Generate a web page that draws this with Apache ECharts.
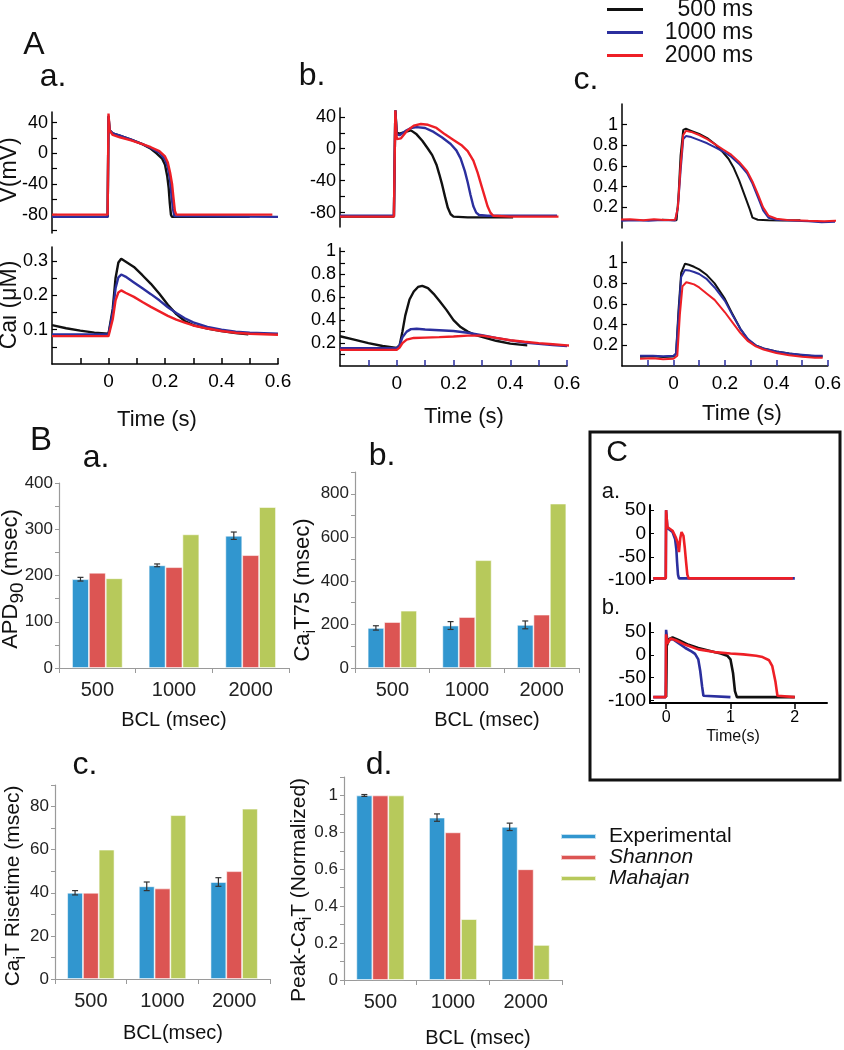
<!DOCTYPE html>
<html><head><meta charset="utf-8">
<script src="https://cdn.jsdelivr.net/npm/echarts@6/dist/echarts.min.js"></script>
<style>html,body{margin:0;padding:0;background:#fff}#c{width:844px;height:1050px}</style>
</head><body><div id="c"></div>
<script>
const NAR = "'Liberation Sans Narrow','Arial Narrow','Liberation Sans',Arial,sans-serif";
const REG = "'Liberation Sans',Arial,sans-serif";
const BLACK = '#111111', BLUE = '#2b2f9e', RED = '#ee1f26';
const C_EXP = '#3196cf', C_SHA = '#dc5553', C_MAH = '#b7c95b';

// ---------- Panel A.a : V (mV) ----------
const aV500 = [[-0.2,-83],[-0.003,-83],[0,48],[0.004,30],[0.015,26],[0.04,23],[0.08,18],[0.12,12],[0.15,6],[0.17,0],[0.19,-7],[0.2,-15],[0.208,-30],[0.213,-45],[0.217,-65],[0.221,-80],[0.225,-83],[0.5,-83]];
const aV1000 = [[-0.2,-83],[-0.003,-83],[0,49],[0.004,30],[0.015,26],[0.04,23],[0.08,18],[0.12,12],[0.15,7],[0.18,1],[0.2,-8],[0.21,-18],[0.218,-35],[0.223,-55],[0.228,-72],[0.233,-82],[0.24,-83],[0.6,-83]];
const aV2000 = [[-0.2,-80],[-0.003,-80],[0,52],[0.004,30],[0.015,24],[0.04,21],[0.08,17],[0.12,12],[0.15,8],[0.18,3],[0.2,-4],[0.21,-12],[0.218,-25],[0.225,-40],[0.23,-58],[0.235,-75],[0.24,-80],[0.58,-80]];
// ---------- Panel A.a : Cai (uM) ----------
const aC500 = [[-0.2,0.113],[-0.15,0.104],[-0.1,0.097],[-0.05,0.091],[0,0.088],[0.005,0.09],[0.015,0.16],[0.025,0.25],[0.035,0.295],[0.045,0.306],[0.06,0.298],[0.09,0.282],[0.12,0.258],[0.15,0.233],[0.18,0.204],[0.21,0.172],[0.24,0.145],[0.27,0.125],[0.3,0.113],[0.35,0.103],[0.4,0.096],[0.45,0.09],[0.495,0.086]];
const aC1000 = [[-0.2,0.086],[0,0.086],[0.005,0.088],[0.015,0.15],[0.025,0.22],[0.035,0.252],[0.045,0.26],[0.06,0.254],[0.09,0.237],[0.12,0.22],[0.15,0.203],[0.18,0.185],[0.21,0.165],[0.24,0.148],[0.27,0.133],[0.3,0.121],[0.35,0.108],[0.4,0.1],[0.45,0.094],[0.5,0.091],[0.6,0.088]];
const aC2000 = [[-0.2,0.081],[0,0.081],[0.005,0.083],[0.015,0.13],[0.025,0.185],[0.035,0.208],[0.045,0.214],[0.06,0.207],[0.09,0.195],[0.12,0.18],[0.15,0.166],[0.18,0.153],[0.21,0.14],[0.24,0.129],[0.27,0.12],[0.3,0.112],[0.35,0.103],[0.4,0.096],[0.45,0.091],[0.5,0.088],[0.6,0.085]];
// ---------- Panel A.b : V (mV) ----------
const bV500 = [[-0.2,-85],[-0.01,-85],[-0.005,48],[0,20],[0.01,19],[0.03,21],[0.05,23],[0.07,18],[0.09,10],[0.11,0],[0.125,-8],[0.14,-20],[0.15,-32],[0.16,-45],[0.17,-60],[0.18,-74],[0.19,-82],[0.2,-85],[0.25,-86],[0.41,-86]];
const bV1000 = [[-0.2,-84],[-0.01,-84],[-0.005,48],[0,18],[0.01,17],[0.03,22],[0.05,26],[0.07,27],[0.1,26],[0.13,21],[0.16,14],[0.19,6],[0.21,-2],[0.225,-12],[0.24,-28],[0.25,-42],[0.26,-58],[0.27,-72],[0.28,-80],[0.29,-83],[0.32,-84],[0.565,-84]];
const bV2000 = [[-0.2,-85],[-0.01,-85],[-0.005,48],[0,12],[0.015,13],[0.035,22],[0.06,29],[0.085,31],[0.11,30],[0.14,26],[0.17,18],[0.2,11],[0.23,4],[0.25,-3],[0.27,-15],[0.285,-30],[0.3,-48],[0.31,-60],[0.32,-72],[0.33,-80],[0.34,-84],[0.4,-85],[0.57,-85]];
// ---------- Panel A.b : Cai ----------
const bC500 = [[-0.2,0.26],[-0.15,0.23],[-0.1,0.2],[-0.05,0.175],[0,0.158],[0.01,0.18],[0.02,0.3],[0.03,0.44],[0.045,0.58],[0.06,0.65],[0.075,0.69],[0.09,0.7],[0.11,0.68],[0.13,0.63],[0.15,0.57],[0.175,0.49],[0.2,0.4],[0.225,0.34],[0.25,0.3],[0.275,0.272],[0.3,0.255],[0.35,0.22],[0.4,0.195],[0.46,0.18]];
const bC1000 = [[-0.2,0.156],[0,0.156],[0.01,0.18],[0.02,0.25],[0.035,0.3],[0.05,0.322],[0.07,0.325],[0.1,0.318],[0.15,0.312],[0.2,0.305],[0.25,0.29],[0.3,0.268],[0.35,0.245],[0.4,0.224],[0.45,0.205],[0.5,0.193],[0.55,0.182],[0.6,0.174]];
const bC2000 = [[-0.2,0.141],[0,0.141],[0.01,0.16],[0.02,0.2],[0.035,0.23],[0.06,0.245],[0.1,0.248],[0.15,0.252],[0.2,0.258],[0.25,0.265],[0.3,0.265],[0.35,0.245],[0.4,0.225],[0.45,0.212],[0.5,0.2],[0.55,0.19],[0.6,0.18],[0.62,0.177]];
// ---------- Panel A.c : experimental (normalized) ----------
const cV500 = [[-0.05,0.08],[-0.02,0.078],[0.005,0.075],[0.012,0.3],[0.02,0.7],[0.03,0.95],[0.04,0.96],[0.06,0.94],[0.09,0.91],[0.12,0.87],[0.15,0.81],[0.18,0.73],[0.2,0.67],[0.22,0.58],[0.24,0.46],[0.26,0.32],[0.28,0.18],[0.29,0.1],[0.31,0.08],[0.35,0.075],[0.4,0.072],[0.47,0.075]];
const cV1000 = [[-0.215,0.07],[-0.15,0.075],[-0.1,0.07],[-0.05,0.078],[0,0.072],[0.01,0.2],[0.02,0.55],[0.03,0.86],[0.04,0.89],[0.06,0.88],[0.09,0.85],[0.12,0.82],[0.15,0.78],[0.18,0.74],[0.21,0.69],[0.24,0.62],[0.27,0.53],[0.29,0.43],[0.31,0.3],[0.33,0.17],[0.35,0.1],[0.38,0.08],[0.45,0.07],[0.5,0.065],[0.55,0.055],[0.6,0.06]];
const cV2000 = [[-0.215,0.08],[-0.17,0.085],[-0.12,0.075],[-0.08,0.085],[-0.04,0.078],[0,0.08],[0.01,0.2],[0.02,0.6],[0.03,0.9],[0.04,0.94],[0.06,0.93],[0.09,0.9],[0.12,0.86],[0.15,0.81],[0.18,0.76],[0.21,0.71],[0.24,0.64],[0.27,0.55],[0.29,0.45],[0.31,0.33],[0.33,0.2],[0.35,0.12],[0.38,0.09],[0.42,0.078],[0.5,0.07],[0.56,0.065],[0.6,0.07],[0.635,0.068]];
const cC500 = [[-0.13,0.09],[-0.08,0.095],[-0.04,0.088],[0,0.092],[0.01,0.12],[0.02,0.55],[0.03,0.9],[0.045,0.99],[0.06,0.98],[0.08,0.96],[0.1,0.935],[0.13,0.88],[0.16,0.8],[0.2,0.65],[0.23,0.5],[0.26,0.36],[0.29,0.25],[0.32,0.2],[0.35,0.17],[0.4,0.14],[0.45,0.12],[0.5,0.105],[0.55,0.095],[0.58,0.092]];
const cC1000 = [[-0.13,0.1],[-0.08,0.1],[-0.04,0.095],[0,0.1],[0.01,0.12],[0.02,0.5],[0.03,0.86],[0.045,0.93],[0.06,0.925],[0.08,0.91],[0.1,0.89],[0.13,0.84],[0.16,0.76],[0.2,0.63],[0.23,0.49],[0.26,0.36],[0.29,0.26],[0.32,0.2],[0.35,0.17],[0.4,0.14],[0.45,0.12],[0.5,0.11],[0.55,0.1],[0.58,0.1]];
const cC2000 = [[-0.13,0.07],[-0.08,0.075],[-0.04,0.065],[0,0.07],[0.015,0.1],[0.025,0.5],[0.035,0.77],[0.05,0.81],[0.065,0.8],[0.08,0.79],[0.1,0.76],[0.13,0.7],[0.16,0.64],[0.2,0.52],[0.23,0.42],[0.26,0.32],[0.29,0.24],[0.32,0.19],[0.35,0.16],[0.4,0.125],[0.45,0.105],[0.5,0.09],[0.55,0.08],[0.58,0.08]];

// ---------- Panel B : bars ----------
const BCL = ['500','1000','2000'];
const apdExp = [192,222,286], apdExpErr = [4,3,8], apdSha = [206,218,244], apdMah = [194,289,348];
const caExp = [184,195,198], caExpErr = [10,18,18], caSha = [211,234,245], caMah = [263,495,755];
const riseExp = [40,43,45], riseExpErr = [1,2,2], riseSha = [40,42,50], riseMah = [60,76,79];
const peakExp = [1,0.88,0.83], peakExpErr = [0.005,0.02,0.02], peakSha = [1,0.8,0.6], peakMah = [1,0.33,0.19];

// ---------- Panel C ----------
const CaBlue = [[-0.2,-96],[-0.005,-96],[0,50],[0.02,12],[0.1,3],[0.14,-12],[0.16,-35],[0.17,-60],[0.185,-88],[0.2,-96],[2.0,-96]];
const CaRed = [[-0.2,-96],[-0.005,-96],[0,50],[0.02,14],[0.1,6],[0.15,-8],[0.18,-20],[0.2,-40],[0.22,-10],[0.24,3],[0.27,-5],[0.29,-30],[0.31,-60],[0.33,-88],[0.35,-96],[1.97,-96]];
const CbBlue = [[-0.2,-93],[-0.005,-93],[0,55],[0.02,30],[0.1,35],[0.2,25],[0.3,15],[0.4,7],[0.45,2],[0.5,-10],[0.53,-35],[0.56,-70],[0.58,-90],[0.6,-93],[1.0,-93]];
const CbBlack = [[0,-93],[0.01,20],[0.05,35],[0.1,38],[0.2,32],[0.35,22],[0.5,15],[0.7,8],[0.85,3],[0.95,-2],[1.0,-10],[1.04,-40],[1.07,-80],[1.1,-93],[2.0,-93]];
const CbRed = [[-0.2,-93],[-0.005,-93],[0,45],[0.02,25],[0.07,36],[0.15,32],[0.3,22],[0.5,12],[0.75,6],[1.0,3],[1.2,1],[1.4,-2],[1.5,-5],[1.6,-12],[1.65,-25],[1.7,-60],[1.73,-90],[1.76,-93],[2.0,-93]];

// ---------- tick / label values ----------
const tTicks = [-0.1,0,0.1,0.2,0.3,0.4,0.5,0.6], tLabels = [0,0.2,0.4,0.6];
const vTicksA = [-100,-80,-60,-40,-20,0,20,40], vTicksB = [-80,-60,-40,-20,0,20,40], vLabels = [-80,-40,0,40];
const caTicksA = [0.05,0.1,0.15,0.2,0.25,0.3], caLabelsA = [0.1,0.2,0.3];
const caTicksB = [0.1,0.2,0.3,0.4,0.5,0.6,0.7,0.8,0.9,1], caLabelsB = [0.2,0.4,0.6,0.8,1];
const nTicksC = [0.2,0.4,0.6,0.8,1], nLabelsC = [0.2,0.4,0.6,0.8,1];
const apdTicks = [0,50,100,150,200,250,300,350,400], apdLabels = [0,100,200,300,400];
const caTTicks = [0,100,200,300,400,500,600,700,800,900], caTLabels = [0,200,400,600,800];
const riseTicks = [0,10,20,30,40,50,60,70,80,90], riseLabels = [0,20,40,60,80];
const peakTicks = [0,0.1,0.2,0.3,0.4,0.5,0.6,0.7,0.8,0.9,1,1.1], peakLabels = [0,0.2,0.4,0.6,0.8,1];
const cVTicks = [-100,-50,0,50], cVLabels = [-100,-50,0,50], cTTicks = [0,1,2], cTLabels = [0,1,2];

const GAP = 0.34;
const fmt = v => String(Math.round(v * 1000) / 1000);

const grids = [
  {left:52, top:112, width:226, height:121},  // 0 A.a V
  {left:52, top:247, width:226, height:117},  // 1 A.a Ca
  {left:340, top:108, width:227, height:119}, // 2 A.b V
  {left:340, top:248, width:227, height:118}, // 3 A.b Ca
  {left:622, top:104, width:213, height:124}, // 4 A.c top
  {left:622, top:242, width:213, height:124}, // 5 A.c bottom
  {left:59, top:483, width:230, height:185},  // 6 B.a
  {left:355, top:472, width:224, height:196}, // 7 B.b
  {left:55, top:785, width:215, height:194},  // 8 B.c
  {left:344, top:777, width:218, height:203}, // 9 B.d
  {left:650, top:505, width:177, height:78},  // 10 C.a
  {left:650, top:623, width:177, height:80}   // 11 C.b
];

function tAxis(gi, show, tickColor) {
  return {type:'value', gridIndex:gi, min:-0.2, max:0.6, show:show,
    axisLine:{show:true, onZero:false, lineStyle:{color:'#000', width:1.5}},
    axisTick:{show:true, inside:true, length:6, customValues:tTicks, lineStyle:{color:tickColor, width:1.5}},
    axisLabel:{show:true, customValues:tLabels, fontSize:19, fontFamily:NAR, color:'#000', margin:8, formatter:fmt},
    splitLine:{show:false}};
}
function yA(gi, min, max, ticks, labels) {
  return {type:'value', gridIndex:gi, min:min, max:max,
    axisLine:{show:true, onZero:false, lineStyle:{color:'#000', width:1.5}},
    axisTick:{show:true, inside:true, length:5, customValues:ticks, lineStyle:{color:'#000', width:1.2}},
    axisLabel:{show:true, customValues:labels, fontSize:18, fontFamily:NAR, color:'#000', margin:4, formatter:fmt},
    splitLine:{show:false}};
}
function catB(gi) {
  return {type:'category', gridIndex:gi, data:BCL, boundaryGap:true,
    axisLine:{show:true, lineStyle:{color:'#9a9a9a', width:1.2}},
    axisTick:{show:true, alignWithLabel:false, length:5, lineStyle:{color:'#9a9a9a'}},
    axisLabel:{fontSize:20, fontFamily:NAR, color:'#222', margin:12},
    splitLine:{show:false}};
}
function yB(gi, min, max, ticks, labels) {
  return {type:'value', gridIndex:gi, min:min, max:max,
    axisLine:{show:true, lineStyle:{color:'#9a9a9a', width:1.2}},
    axisTick:{show:true, length:4, customValues:ticks, lineStyle:{color:'#9a9a9a'}},
    axisLabel:{customValues:labels, fontSize:17, fontFamily:NAR, color:'#222', margin:6, formatter:fmt},
    splitLine:{show:false}};
}
function cY(gi, min, max) {
  return {type:'value', gridIndex:gi, min:min, max:max,
    axisLine:{show:true, onZero:false, lineStyle:{color:'#000', width:2}},
    axisTick:{show:true, inside:true, length:4, customValues:cVTicks, lineStyle:{color:'#000'}},
    axisLabel:{customValues:cVLabels, fontSize:19, fontFamily:NAR, color:'#000', margin:4, formatter:fmt},
    splitLine:{show:false}};
}
function cX(gi, show) {
  return {type:'value', gridIndex:gi, min:-0.25, max:2.5, show:show,
    axisLine:{show:true, onZero:false, lineStyle:{color:'#000', width:2}},
    axisTick:{show:true, length:6, customValues:cTTicks, lineStyle:{color:'#000', width:1.5}},
    axisLabel:{customValues:cTLabels, fontSize:16, fontFamily:NAR, color:'#000', margin:7, formatter:fmt},
    splitLine:{show:false}};
}

const xAxis = [
  tAxis(0, false, '#000'), tAxis(1, true, '#000'),
  tAxis(2, false, BLUE), tAxis(3, true, BLUE),
  tAxis(4, false, BLUE), tAxis(5, true, BLUE),
  catB(6), catB(7), catB(8), catB(9),
  cX(10, false), cX(11, true)
];
const yAxis = [
  yA(0, -104, 54, vTicksA, vLabels), yA(1, 0, 0.34, caTicksA, caLabelsA),
  yA(2, -98, 51, vTicksB, vLabels), yA(3, 0, 1.03, caTicksB, caLabelsB),
  yA(4, 0, 1.2, nTicksC, nLabelsC), yA(5, 0, 1.2, nTicksC, nLabelsC),
  yB(6, 0, 400, apdTicks, apdLabels), yB(7, 0, 900, caTTicks, caTLabels),
  yB(8, 0, 90, riseTicks, riseLabels), yB(9, 0, 1.1, peakTicks, peakLabels),
  cY(10, -106, 61), cY(11, -106, 70)
];

function line(name, data, gi, color, w) {
  return {type:'line', name:name, data:data, xAxisIndex:gi, yAxisIndex:gi, symbol:'none', showSymbol:false,
    lineStyle:{color:color, width:w || 2.4}, itemStyle:{color:color}, emphasis:{disabled:true}, z:3};
}
function bar(name, data, gi, color) {
  return {type:'bar', name:name, data:data, xAxisIndex:gi, yAxisIndex:gi, barGap:'0%', barCategoryGap:(GAP*100)+'%',
    itemStyle:{color:color, borderColor:'rgba(255,255,255,0.7)', borderWidth:0.8}, emphasis:{disabled:true}};
}
function errRender(params, api) {
  const i = api.value(0), v = api.value(1), e = api.value(2);
  const band = api.size([1, 0])[0];
  const bw = band * (1 - GAP) / 3;
  const cx = api.coord([i, v])[0] - bw;
  const yT = api.coord([i, v + e])[1], yBt = api.coord([i, v - e])[1];
  const st = {stroke:'#333', lineWidth:1.2};
  return {type:'group', children:[
    {type:'line', shape:{x1:cx, y1:yT, x2:cx, y2:yBt}, style:st},
    {type:'line', shape:{x1:cx-3, y1:yT, x2:cx+3, y2:yT}, style:st},
    {type:'line', shape:{x1:cx-3, y1:yBt, x2:cx+3, y2:yBt}, style:st}]};
}
function err(vals, errs, gi) {
  return {type:'custom', name:'err'+gi, xAxisIndex:gi, yAxisIndex:gi, renderItem:errRender, z:5,
    data:vals.map((v, i) => [i, v, errs[i]]), encode:{x:0, y:1}};
}

const series = [
  line('500 ms', aV500, 0, BLACK), line('1000 ms', aV1000, 0, BLUE), line('2000 ms', aV2000, 0, RED),
  line('500 ms', aC500, 1, BLACK), line('1000 ms', aC1000, 1, BLUE), line('2000 ms', aC2000, 1, RED),
  line('500 ms', bV500, 2, BLACK), line('1000 ms', bV1000, 2, BLUE), line('2000 ms', bV2000, 2, RED),
  line('500 ms', bC500, 3, BLACK), line('1000 ms', bC1000, 3, BLUE), line('2000 ms', bC2000, 3, RED),
  line('500 ms', cV500, 4, BLACK, 2), line('1000 ms', cV1000, 4, BLUE, 2), line('2000 ms', cV2000, 4, RED, 2),
  line('500 ms', cC500, 5, BLACK, 2), line('1000 ms', cC1000, 5, BLUE, 2), line('2000 ms', cC2000, 5, RED, 2),
  bar('Experimental', apdExp, 6, C_EXP), bar('Shannon', apdSha, 6, C_SHA), bar('Mahajan', apdMah, 6, C_MAH),
  bar('Experimental', caExp, 7, C_EXP), bar('Shannon', caSha, 7, C_SHA), bar('Mahajan', caMah, 7, C_MAH),
  bar('Experimental', riseExp, 8, C_EXP), bar('Shannon', riseSha, 8, C_SHA), bar('Mahajan', riseMah, 8, C_MAH),
  bar('Experimental', peakExp, 9, C_EXP), bar('Shannon', peakSha, 9, C_SHA), bar('Mahajan', peakMah, 9, C_MAH),
  err(apdExp, apdExpErr, 6), err(caExp, caExpErr, 7), err(riseExp, riseExpErr, 8), err(peakExp, peakExpErr, 9),
  line('C-a blue', CaBlue, 10, BLUE, 2.6), line('C-a red', CaRed, 10, RED, 2.6),
  line('C-b blue', CbBlue, 11, BLUE, 2.6), line('C-b black', CbBlack, 11, BLACK, 2.6), line('C-b red', CbRed, 11, RED, 2.6)
];

function T(x, y, text, size, o) {
  o = o || {};
  const st = {text:text, fontSize:size, fontFamily:o.family || REG, fill:o.color || '#111',
    fontStyle:o.style || 'normal', align:'center', verticalAlign:'middle', textAlign:'center', textVerticalAlign:'middle'};
  if (o.rich) st.rich = o.rich;
  return {type:'text', x:x, y:y, rotation:o.rot || 0, style:st, silent:true};
}
const subRich = (n, s) => ({
  n:{fontSize:n, fontFamily:REG, lineHeight:n + 10, fill:'#111', color:'#111'},
  s:{fontSize:s, fontFamily:REG, lineHeight:s, verticalAlign:'bottom', fill:'#111', color:'#111'}
});
const R = Math.PI / 2;

const graphic = [
  T(34, 45, 'A', 32), T(53, 77, 'a.', 32), T(312, 76, 'b.', 32), T(586, 80, 'c.', 32),
  T(10, 170, 'V(mV)', 23, {rot:R}), T(10, 305, 'Cai (\u03bcM)', 23, {rot:R}),
  T(157, 420, 'Time (s)', 22, {family:NAR}), T(464, 417, 'Time (s)', 22, {family:NAR}), T(742, 414, 'Time (s)', 22, {family:NAR}),
  T(41, 441, 'B', 33), T(96, 458, 'a.', 32), T(382, 456, 'b.', 32),
  T(85, 765, 'c.', 32), T(379, 765, 'd.', 32),
  T(11, 579, '{n|APD}{s|90}{n| (msec)}', 22, {rot:R, rich:subRich(22, 19)}),
  T(303, 590, '{n|Ca}{s|i}{n|T75 (msec)}', 22, {rot:R, rich:subRich(22, 17)}),
  T(13, 886, '{n|Ca}{s|i}{n|T Risetime (msec)}', 21, {rot:R, rich:subRich(21, 16)}),
  T(299, 890, '{n|Peak-Ca}{s|i}{n|T (Normalized)}', 21, {rot:R, rich:subRich(21, 16)}),
  T(174, 720, 'BCL (msec)', 20, {family:NAR}), T(487, 720, 'BCL (msec)', 20, {family:NAR}),
  T(173, 1033, 'BCL(msec)', 20, {family:NAR}), T(478, 1038, 'BCL (msec)', 20, {family:NAR}),
  {type:'rect', shape:{x:590, y:432, width:250, height:348}, style:{fill:'none', stroke:'#111', lineWidth:3}, silent:true},
  T(617, 453, 'C', 30), T(611, 492, 'a.', 22), T(611, 608, 'b.', 22),
  T(733, 737, 'Time(s)', 16, {family:NAR})
];

const chart = echarts.init(document.getElementById('c'), null, {renderer:'canvas'});
chart.setOption({
  animation:false,
  backgroundColor:'#ffffff',
  grid:grids, xAxis:xAxis, yAxis:yAxis, series:series, graphic:graphic,
  legend:[
    {data:['500 ms','1000 ms','2000 ms'], orient:'vertical', left:607, top:-2, padding:0, itemGap:0,
     icon:'rect', itemWidth:36, itemHeight:3, selectedMode:false,
     formatter:n => '{r|' + n + '}',
     textStyle:{rich:{r:{width:105, align:'right', fontSize:23, lineHeight:23, fontFamily:REG, color:'#111'}}}},
    {data:['Experimental','Shannon','Mahajan'], orient:'vertical', left:560, top:826, padding:0, itemGap:0,
     icon:'rect', itemWidth:35, itemHeight:5, selectedMode:false,
     formatter:n => (n === 'Experimental' ? '{p|' : '{i|') + n + '}',
     textStyle:{rich:{
       p:{fontSize:21, lineHeight:25, fontFamily:REG, color:'#111', padding:[0,0,0,8]},
       i:{fontSize:21, lineHeight:25, fontFamily:REG, fontStyle:'italic', color:'#111', padding:[0,0,0,8]}}}}
  ]
});
</script></body></html>
